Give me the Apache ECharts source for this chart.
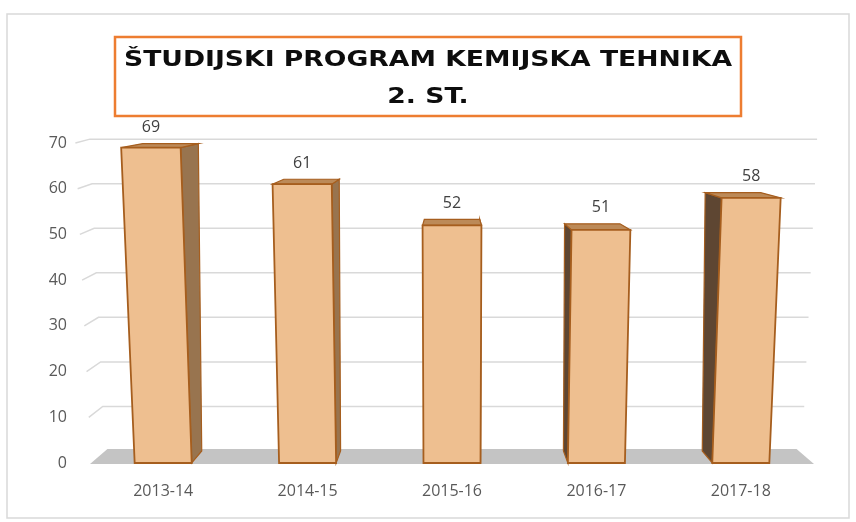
<!DOCTYPE html>
<html>
<head>
<meta charset="utf-8">
<script src="https://cdn.jsdelivr.net/npm/echarts@6/dist/echarts.min.js"></script>
<style>
  html, body { margin: 0; padding: 0; background: #fff; }
  #chart { width: 856px; height: 522px; }
</style>
</head>
<body>
<div id="chart"></div>
<script>
// podatki
const categories = ['2013-14', '2014-15', '2015-16', '2016-17', '2017-18'];
const values = [69, 61, 52, 51, 58];
const yTicks = [0, 10, 20, 30, 40, 50, 60, 70];
const titleLines = ['ŠTUDIJSKI PROGRAM KEMIJSKA TEHNIKA', '2. ST.'];

// perspektiva (približek Excelovega 3D stolpca)
const PERSP = 1.35e-4;   // razširitev sprednje ploskve navzgor
const DEPTH_X = 0.0385;  // pomik proti sredini za globino
function front(x, y, cx, by) {
  return [cx + (x - cx) * (1 + PERSP * (by - y)), y];
}
// g = dodatna globina stolpcev proti vrhu
function back(p, cx, by, f, g) {
  f = f || 1;
  g = g || 0;
  const kx = DEPTH_X * f * (1 + g * (by - p[1]));
  return [p[0] + kx * (cx - p[0]), p[1] + f * (-12 - 0.0254 * (p[1] - by))];
}

let chart = echarts.init(document.getElementById('chart'));

let option = {
  animation: false,
  grid: { left: 91, right: 43, top: 143, bottom: 59 },
  graphic: [
    {
      type: 'rect',
      shape: { x: 7, y: 14, width: 842, height: 504 },
      style: { fill: 'none', stroke: '#d9d9d9', lineWidth: 1.5 },
      z: -10
    },
    {
      type: 'rect',
      shape: { x: 115, y: 37, width: 626, height: 79 },
      style: { fill: '#fff', stroke: '#ED7D31', lineWidth: 2.5 },
      z: 10
    },
    {
      type: 'text', x: 428, y: 60, scaleX: 1.21, z: 11,
      style: {
        text: titleLines[0], font: 'bold 22px "DejaVu Sans"', fill: '#0d0d0d',
        textAlign: 'center', textVerticalAlign: 'middle'
      }
    },
    {
      type: 'text', x: 428, y: 97, scaleX: 1.21, z: 11,
      style: {
        text: titleLines[1], font: 'bold 22px "DejaVu Sans"', fill: '#0d0d0d',
        textAlign: 'center', textVerticalAlign: 'middle'
      }
    }
  ],
  xAxis: {
    type: 'category',
    data: categories,
    axisLine: { show: false },
    axisTick: { show: false },
    axisLabel: { color: '#595959', fontSize: 16, fontFamily: 'Open Sans', margin: 20 }
  },
  yAxis: {
    type: 'value',
    min: 0,
    max: 70,
    interval: 10,
    axisLine: { show: false },
    axisTick: { show: false },
    splitLine: { show: false },
    axisLabel: { color: '#595959', fontSize: 16, fontFamily: 'Open Sans', margin: 24 }
  },
  series: [
    // stena in tla
    {
      type: 'custom',
      z: 1,
      data: yTicks.map(v => [0, v]),
      renderItem(params, api) {
        const cs = params.coordSys;
        const cx = cs.x + cs.width / 2, by = cs.y + cs.height;
        const v = api.value(1);
        const y = api.coord([0, v])[1];
        if (v === 0) {
          const fl = [cs.x - 1, by + 1], fr = [cs.x + cs.width + 1, by + 1];
          return {
            type: 'polygon',
            shape: { points: [fl, fr, back(fr, cx, by, 1.25), back(fl, cx, by, 1.25)] },
            style: { fill: '#c4c4c4' }
          };
        }
        const fl = front(cs.x, y, cx, by);
        const fr = front(cs.x + cs.width, y, cx, by);
        const br = back(fr, cx, by);
        br[0] += 3;
        return {
          type: 'polyline',
          shape: { points: [fl, back(fl, cx, by), br] },
          style: { fill: null, stroke: '#d9d9d9', lineWidth: 1.5 }
        };
      }
    },
    // stolpci
    {
      type: 'custom',
      z: 5,
      data: values.map((v, i) => [i, v]),
      renderItem(params, api) {
        const cs = params.coordSys;
        const cx = cs.x + cs.width / 2, by = cs.y + cs.height;
        const base = api.coord([api.value(0), 0]);
        const top = api.coord([api.value(0), api.value(1)]);
        const w = api.size([1, 0])[0] * 0.395;
        const xl = base[0] - w / 2, xr = base[0] + w / 2;
        const G = 0.0022;
        const fbl = front(xl, by, cx, by), fbr = front(xr, by, cx, by);
        const ftl = front(xl, top[1], cx, by), ftr = front(xr, top[1], cx, by);
        const bbl = back(fbl, cx, by, 1, G), bbr = back(fbr, cx, by, 1, G);
        const btl = back(ftl, cx, by, 1, G), btr = back(ftr, cx, by, 1, G);
        const edge = '#a65e1e';
        const rightSide = base[0] < cx;
        const side = rightSide ? [fbr, ftr, btr, bbr] : [fbl, ftl, btl, bbl];
        return {
          type: 'group',
          children: [
            {
              type: 'polygon', shape: { points: side },
              style: { fill: rightSide ? '#98744f' : '#5e4632', stroke: edge, lineWidth: 1.2 }
            },
            {
              type: 'polygon', shape: { points: [ftl, ftr, btr, btl] },
              style: { fill: '#bc8a58', stroke: edge, lineWidth: 1.2 }
            },
            {
              type: 'polygon', shape: { points: [fbl, fbr, ftr, ftl] },
              style: { fill: '#eebf90', stroke: edge, lineWidth: 1.8 }
            },
            {
              type: 'text',
              style: {
                text: String(api.value(1)),
                x: (ftl[0] + ftr[0]) / 2,
                y: Math.min(btl[1], btr[1]) - 16,
                fill: '#404040',
                font: '16px "Open Sans"',
                textAlign: 'center',
                textVerticalAlign: 'middle'
              }
            }
          ]
        };
      }
    }
  ]
};

chart.setOption(option);
</script>
</body>
</html>
